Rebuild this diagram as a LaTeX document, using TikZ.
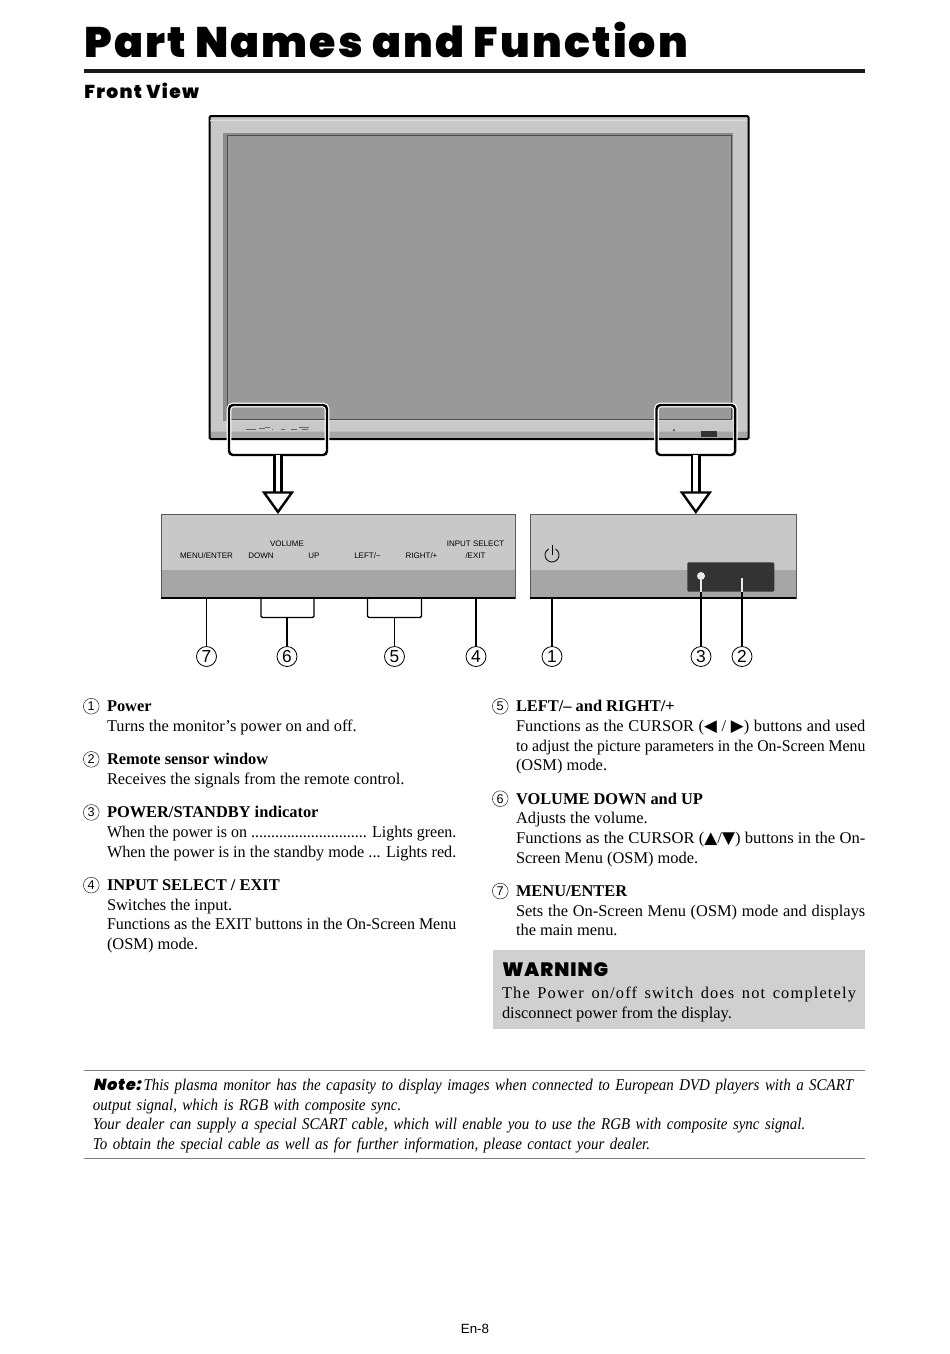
\documentclass[tikz,border=0pt]{standalone}
\usepackage{fontspec}
\usepackage{xcolor}
\usepackage{tikz}
\usetikzlibrary{arrows.meta,positioning}
\setmainfont{Liberation Serif}
\setsansfont{Liberation Sans}
\newfontfamily\heavyfont{Poppins Black}
\newfontfamily\heavyslant{Poppins Black}[FakeSlant=0.2,LetterSpace=5]
\newfontfamily\notefont{Liberation Serif Italic}[FakeStretch=0.912]
\newfontfamily\symfont{DejaVu Sans}
\definecolor{framegray}{HTML}{C8C8C8}
\definecolor{bandgray}{HTML}{A6A6A6}
\definecolor{screengray}{HTML}{999999}
\definecolor{warngray}{HTML}{D0D0D0}
\newcommand{\tri}[1]{\raisebox{0pt}[0pt][0pt]{\symfont\fontsize{12.5}{12.5}\selectfont #1}}
\newcommand{\fitline}[1]{\resizebox{\hsize}{\height}{#1}}

\begin{document}
\begin{tikzpicture}[
  x=0.75pt,y=-0.75pt,
  bodytxt/.style={inner sep=0pt,outer sep=0pt,text width=262pt,align=justify,
                  font=\fontsize{12.3}{14.75}\selectfont},
  numsmall/.style={draw=black!80,circle,inner sep=0pt,minimum size=11.8pt,line width=0.4pt,
                   font=\sffamily\fontsize{9.5}{9.5}\selectfont},
  numbig/.style={draw,circle,inner sep=0pt,minimum size=15pt,line width=0.6pt,
                 font=\sffamily\fontsize{13}{13}\selectfont},
  panelbox/.style={draw=black!65,line width=0.6pt,fill=framegray,inner sep=0pt,outer sep=0pt,
                   anchor=north west,minimum height=63pt,
                   path picture={\fill[bandgray] (path picture bounding box.south west)
                     rectangle ([yshift=21pt]path picture bounding box.south east);}},
  lbl/.style={inner sep=0pt,font=\sffamily\fontsize{6}{6}\selectfont},
  lead/.style={line width=1.1pt},
  hilite/.style={draw,rounded corners=3pt,line width=1.8pt,inner sep=0pt,outer sep=0pt,
                 anchor=north west,minimum height=37.5pt,
                 preaction={draw=white,line width=3.6pt}},
  hollow/.style={double=white,double distance=3.6pt,line width=1.8pt,
                 -{Triangle[length=17pt,width=24pt,fill=white,line width=1.8pt]}}
]
\useasboundingbox (0,0) rectangle (950,1354);

% heading
\node[anchor=base west,inner sep=0pt,font=\heavyfont\fontsize{32}{32}\selectfont\addfontfeature{LetterSpace=5}] (title) at (84,57) {Part Names and Function};
\draw[line width=3pt,black!90] (84,71) -- (865,71);
\node[anchor=base west,inner sep=0pt,font=\heavyfont\fontsize{14}{14}\selectfont\addfontfeature{LetterSpace=7}] (front) at (84,98) {Front View};

% monitor
\node[draw,line width=1.5pt,fill=framegray,rounded corners=1pt,anchor=north west,inner sep=0pt,
      minimum width=404.25pt,minimum height=242.25pt,
      path picture={\fill[bandgray] ([yshift=5.5pt]path picture bounding box.south west)
        rectangle (path picture bounding box.south east);}] (monitor) at (208.5,115) {};
\draw[framegray!60,line width=1pt] (210,120.5) -- (747,120.5);
\fill[black!45] (223,133) rectangle (733,421);
\fill[framegray!80] (227,419) rectangle (733,421);
\node[draw=black!70,line width=1.1pt,fill=screengray,anchor=north west,inner sep=0pt,
      minimum width=378pt,minimum height=213pt] (screen) at (227,135) {};
\foreach \xa/\xb/\yy in {246/256/429,259/265/428,265/270/427,272/273/429,281/285/429,291/297/429,299/309/427,302/308/429}
  \draw[black!60,line width=0.6pt] (\xa,\yy) -- (\xb,\yy);
\fill[black!55] (674,430) circle (1.5);
\fill[black!80] (701,431) rectangle (717,437);

\node[hilite,minimum width=73.5pt] (hlL) at (229,405) {};
\node[hilite,minimum width=59pt] (hlR) at (656.5,405) {};

% panels
\node[panelbox,minimum width=265.5pt] (panelL) at (161,514) {};
\node[panelbox,minimum width=199.5pt] (panelR) at (530,514) {};
\draw[line width=1.3pt] (panelL.south west) -- (panelL.south east);
\draw[line width=1.3pt] (panelR.south west) -- (panelR.south east);

\draw[hollow] (hlL.south) -- (hlL.south |- panelL.north);
\draw[hollow] (hlR.south) -- (hlR.south |- panelR.north);

\node[lbl] (volume) at (287,543.5) {VOLUME};
\node[lbl] (menu) at (206.5,555.5) {MENU/ENTER};
\node[lbl] (down) at (261,555.5) {DOWN};
\node[lbl] (up) at (314,555.5) {UP};
\node[lbl] (left) at (367.5,555.5) {LEFT/−};
\node[lbl] (right) at (421.5,555.5) {RIGHT/+};
\node[lbl] (input) at (475.5,543.5) {INPUT SELECT};
\node[lbl] (exit) at (475.5,555.5) {/EXIT};

% power symbol, sensor window
\coordinate (pwr) at (552,555);
\draw[line width=0.6pt] (pwr) ++(-60:7) arc (-60:240:7);
\draw[line width=0.6pt] (552,545) -- (pwr);
\node[fill=black!80,rounded corners=1pt,anchor=north west,inner sep=0pt,
      minimum width=65.25pt,minimum height=22pt] (window) at (687,562) {};
\node[circle,fill=black!8,inner sep=0pt,minimum size=6pt] (led) at (701,576) {};
\coordinate (sensor) at (742,578);

% callouts
\node[numbig] (n7) at (206.5,656.5) {7};
\node[numbig] (n6) at (287,656.5) {6};
\node[numbig] (n5) at (394.5,656.5) {5};
\node[numbig] (n4) at (476,656.5) {4};
\node[numbig] (n1) at (552,656.5) {1};
\node[numbig] (n3) at (701,656.5) {3};
\node[numbig] (n2) at (742,656.5) {2};

\draw[lead] (n7) -- (n7 |- panelL.south);
\draw[lead] (n4) -- (n4 |- panelL.south);
\draw[lead] (n1) -- (n1 |- panelR.south);
\draw[lead] (n6) -- (n6 |- 0,617.5);
\draw[lead] (n5) -- (n5 |- 0,617.5);
\draw[lead,rounded corners=1pt] (down |- panelL.south) -- (down |- 0,617.5) -- (up |- 0,617.5) -- (up |- panelL.south);
\draw[lead,rounded corners=1pt] (left |- panelL.south) -- (left |- 0,617.5) -- (right |- 0,617.5) -- (right |- panelL.south);
\draw[lead] (n3) -- (n3 |- window.south);
\draw[lead] (n2) -- (n2 |- window.south);
\draw[lead,black!8] (led) -- (led |- window.south);
\draw[lead,black!8] (sensor) -- (sensor |- window.south);

% left column
\node[bodytxt,anchor=north west] (t1) at (107,698) {\strut\textbf{Power}\\
Turns the monitor’s power on and off.\strut};
\node[bodytxt,below right=10.3pt and 0pt of t1.south west] (t2) {\strut\textbf{Remote sensor window}\\
Receives the signals from the remote control.\strut};
\node[bodytxt,below right=10.3pt and 0pt of t2.south west] (t3) {\strut\textbf{POWER/STANDBY indicator}\\
\fitline{When the power is on ............................. Lights green.}\\
\fitline{When the power is in the standby mode ... Lights red.}\strut};
\node[bodytxt,below right=10.3pt and 0pt of t3.south west] (t4) {\strut\textbf{INPUT SELECT / EXIT}\\
Switches the input.\\
\fitline{Functions as the EXIT buttons in the On-Screen Menu}\\
(OSM) mode.\strut};

% right column
\node[bodytxt,anchor=north west] (t5) at (516,698) {\strut\textbf{LEFT/– and RIGHT/+}\\
Functions as the CURSOR (\tri{◀} / \tri{▶}) buttons and used\linebreak
\fitline{to adjust the picture parameters in the On-Screen Menu}\\
(OSM) mode.\strut};
\node[bodytxt,below right=10.3pt and 0pt of t5.south west] (t6) {\strut\textbf{VOLUME DOWN and UP}\\
Adjusts the volume.\\
\fitline{Functions as the CURSOR (\tri{▲}/\tri{▼}) buttons in the On-}\\
Screen Menu (OSM) mode.\strut};
\node[bodytxt,below right=10.3pt and 0pt of t6.south west] (t7) {\strut\textbf{MENU/ENTER}\\
Sets the On-Screen Menu (OSM) mode and displays\linebreak
the main menu.\strut};

\foreach \nn/\tn in {1/t1,2/t2,3/t3,4/t4,5/t5,6/t6,7/t7}
  \node[numsmall] (c\nn) at ([xshift=-11.8pt,yshift=-6.2pt]\tn.north west) {\nn};

% warning
\node[fill=warngray,anchor=north west,inner sep=0pt,minimum width=279pt,minimum height=59.25pt] (warnbox) at (493,950) {};
\node[anchor=base west,inner sep=0pt,font=\heavyfont\fontsize{14.5}{14.5}\selectfont\addfontfeature{LetterSpace=5}] (warnhead) at (502,976) {WARNING};
\node[bodytxt,text width=265.5pt,anchor=north west] (warntxt) at (502,985) {\strut\makebox[\hsize][s]{\addfontfeature{LetterSpace=7}The Power on/off switch does not  completely}\\
disconnect power from the display.\strut};

% note
\draw[black!50,line width=0.6pt] (84,1070) -- (865,1070);
\draw[black!50,line width=0.6pt] (84,1158.5) -- (865,1158.5);
\node[bodytxt,text width=585pt,align=left,anchor=north west,font=\notefont\fontsize{12.3}{14.7}\selectfont] (note) at (93,1077) {\strut{\heavyslant\fontsize{12}{12}\selectfont Note:}\,This plasma monitor has the capasity to display images when connected to European DVD players with a SCART\\
output signal, which is RGB with composite sync.\\
Your dealer can supply a special SCART cable, which will enable you to use the RGB with composite sync signal.\\
To obtain the special cable as well as for further information, please contact your dealer.\strut};

\node[font=\sffamily\fontsize{10}{10}\selectfont,inner sep=0pt] (page) at (475,1328.5) {En-8};
\end{tikzpicture}
\end{document}
